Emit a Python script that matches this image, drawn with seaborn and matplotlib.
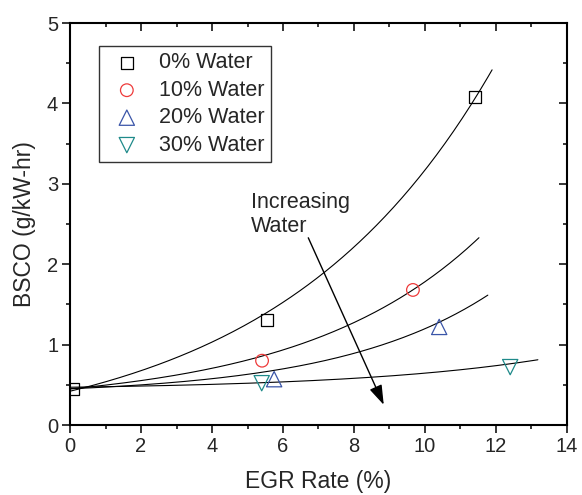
import numpy as np
import pandas as pd
import matplotlib
matplotlib.use('Agg')
import matplotlib.pyplot as plt
from matplotlib.ticker import MultipleLocator
import seaborn as sns

# measured points (EGR %, BSCO g/kW-hr)
series_names = ['0% Water', '10% Water', '20% Water', '30% Water']
egr_0 = [0.1, 5.55, 11.41]
bsco_0 = [0.45, 1.31, 4.08]
egr_10 = [5.41, 9.66]
bsco_10 = [0.80, 1.68]
egr_20 = [5.75, 10.4]
bsco_20 = [0.57, 1.22]
egr_30 = [5.4, 12.4]
bsco_30 = [0.52, 0.72]

# exponential fit lines y = y0 + A*exp(b*x)
fit_y0 = [-0.234, 0.2415, 0.367, 0.437]
fit_A = [0.654, 0.2085, 0.0833, 0.0327]
fit_b = [0.165, 0.20, 0.23, 0.185]
fit_xend = [11.89, 11.52, 11.77, 13.18]

colors = ['black', '#ee3b3b', '#3a55a8', '#1f8a8a']
markers = ['s', 'o', '^', 'v']
sizes = [71, 83, 121, 121]

sns.set_style('ticks')
plt.rcParams['font.family'] = ['Liberation Sans', 'DejaVu Sans']

fig = plt.figure(figsize=(5.82, 4.95), dpi=100)
ax = fig.add_axes([0.1203, 0.1414, 0.8539, 0.8121])

# fit curves
for i in range(4):
    xs = np.linspace(-0.11, fit_xend[i], 200)
    ys = fit_y0[i] + fit_A[i] * np.exp(fit_b[i] * xs)
    sns.lineplot(x=xs, y=ys, color='black', linewidth=0.8, ax=ax, legend=False)

egr_all = [egr_0, egr_10, egr_20, egr_30]
bsco_all = [bsco_0, bsco_10, bsco_20, bsco_30]
for i, name in enumerate(series_names):
    sns.scatterplot(x=egr_all[i], y=bsco_all[i], marker=markers[i], s=sizes[i],
                    color=colors[i], facecolor='none', edgecolor=colors[i],
                    linewidth=0.9, label=name, ax=ax, zorder=3)

ax.annotate('', xy=(8.87, 0.22), xytext=(6.68, 2.36),
            arrowprops=dict(arrowstyle='-|>,head_length=0.6,head_width=0.2',
                            color='black', lw=1.0, mutation_scale=20))
ax.text(5.1, 2.9, 'Increasing\nWater', fontsize=15.5, va='top', ha='left')

ax.set_xlim(0, 14)
ax.set_ylim(0, 5)
ax.xaxis.set_major_locator(MultipleLocator(2))
ax.xaxis.set_minor_locator(MultipleLocator(1))
ax.yaxis.set_major_locator(MultipleLocator(1))
ax.yaxis.set_minor_locator(MultipleLocator(0.5))
ax.tick_params(which='both', direction='out', top=True, right=True, labelsize=14.5, width=1.1, color='black')
ax.tick_params(which='major', length=5.5, pad=3)
ax.tick_params(which='minor', length=3)
# top/right ticks point inward
for tk in ax.xaxis.get_major_ticks() + ax.xaxis.get_minor_ticks():
    tk.tick2line.set_marker(3)
for tk in ax.yaxis.get_major_ticks() + ax.yaxis.get_minor_ticks():
    tk.tick2line.set_marker(0)

for sp in ax.spines.values():
    sp.set_visible(True)
    sp.set_linewidth(1.5)
    sp.set_color('black')

ax.set_xlabel('EGR Rate (%)', fontsize=16.5, labelpad=10)
ax.set_ylabel('BSCO (g/kW-hr)', fontsize=16.5, labelpad=8)

leg = ax.legend(loc='upper left', bbox_to_anchor=(0.058, 0.943), borderaxespad=0,
                fontsize=15.5, frameon=True, fancybox=False, edgecolor='black',
                handletextpad=0.5, labelspacing=0.3, borderpad=0.3)
leg.get_frame().set_linewidth(1.0)

fig.savefig('out.png', dpi=100)
